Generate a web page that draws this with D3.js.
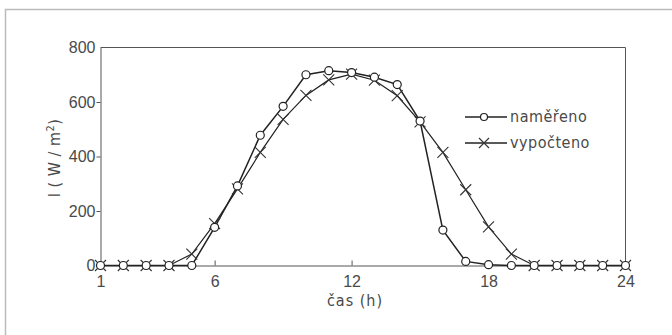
<!DOCTYPE html>
<html>
<head>
<meta charset="utf-8">
<script src="https://cdn.jsdelivr.net/npm/d3@7"></script>
<style>
  body { margin: 0; background: #fff; }
  svg { display: block; font-family: "DejaVu Sans Condensed", "DejaVu Sans", sans-serif; }
  .axis text { fill: #4a4a4a; font-size: 16px; }
  .axis path, .axis line { stroke: #555; }
</style>
</head>
<body>
<svg id="chart" width="672" height="335"></svg>
<script>
// Hourly irradiance, measured vs. calculated.
const hours = d3.range(1, 25);
const measured = [0, 0, 0, 0, 0, 140, 292, 478, 584, 700, 715, 708,
                  691, 664, 530, 130, 15, 3, 0, 0, 0, 0, 0, 0];
const calculated = [0, 0, 0, 0, 42, 154, 281, 415, 536, 624, 681, 702,
                    680, 623, 527, 415, 278, 142, 42, 0, 0, 0, 0, 0];
const xTicks = [1, 6, 12, 18, 24];
const yTicks = [0, 200, 400, 600, 800];
const seriesNames = ["naměřeno", "vypočteno"];

const svg = d3.select("#chart");
const LINE = "#222";
const TEXT = "#4a4a4a";

// Light frame round the figure.
svg.append("rect")
  .attr("x", 5.5).attr("y", 9.5)
  .attr("width", 680).attr("height", 340)
  .attr("fill", "none").attr("stroke", "#bbb").attr("stroke-width", 1.5);

const x = d3.scaleLinear().domain([1, 24]).range([100.5, 625.5]);
const y = d3.scaleLinear().domain([0, 800]).range([265.5, 47.5]);

// Top and right edges of the plot box.
svg.append("path")
  .attr("d", `M${x(1)},${y(800)}H${x(24)}V${y(0)}`)
  .attr("fill", "none").attr("stroke", "#555");

svg.append("g")
  .attr("class", "axis")
  .attr("transform", `translate(${x(1)},0)`)
  .call(d3.axisLeft(y).tickValues(yTicks).tickSizeInner(4).tickSizeOuter(0).tickPadding(1))
  .call((g) => g.selectAll(".tick line").filter((d) => d === 0 || d === 800).remove());

svg.append("g")
  .attr("class", "axis")
  .attr("transform", `translate(0,${y(0)})`)
  .call(d3.axisBottom(x).tickValues(xTicks).tickSizeInner(-5).tickSizeOuter(0).tickPadding(10))
  .call((g) => g.selectAll(".tick line").filter((d) => d === 1 || d === 24).remove());

// Axis titles.
svg.append("text")
  .attr("x", 355).attr("y", 306)
  .attr("text-anchor", "middle")
  .attr("fill", TEXT).attr("font-size", 16)
  .attr("letter-spacing", 1)
  .text("čas (h)");

const yTitle = svg.append("text")
  .attr("transform", "translate(60,158) rotate(-90)")
  .attr("text-anchor", "middle")
  .attr("fill", TEXT).attr("font-size", 16)
  .attr("letter-spacing", 0.5);
yTitle.append("tspan").text("I ( W / m");
yTitle.append("tspan").attr("dy", -6).attr("font-size", 11).text("2");
yTitle.append("tspan").attr("dy", 6).text(")");

const line = d3.line().x((d) => x(d[0])).y((d) => y(d[1]));

const calcPts = hours.map((h, i) => [h, calculated[i]]);
const measPts = hours.map((h, i) => [h, measured[i]]);

svg.append("path").datum(calcPts)
  .attr("d", line).attr("fill", "none")
  .attr("stroke", LINE).attr("stroke-width", 1.2);
svg.append("path").datum(measPts)
  .attr("d", line).attr("fill", "none")
  .attr("stroke", LINE).attr("stroke-width", 1.5);

// Cross markers for the calculated series.
function cross(g, cx, cy, s) {
  g.append("path")
    .attr("d", `M${cx - s},${cy - s}L${cx + s},${cy + s}M${cx - s},${cy + s}L${cx + s},${cy - s}`)
    .attr("stroke", "#333").attr("stroke-width", 1.1).attr("fill", "none");
}
const crosses = svg.append("g");
calcPts.forEach((d) => cross(crosses, x(d[0]), y(d[1]), 5.5));

svg.append("g").selectAll("circle")
  .data(measPts)
  .join("circle")
  .attr("cx", (d) => x(d[0]))
  .attr("cy", (d) => y(d[1]))
  .attr("r", 4)
  .attr("fill", "#fff")
  .attr("stroke", LINE).attr("stroke-width", 1.2);

// Legend.
const legend = svg.append("g").attr("transform", "translate(465,117)");
seriesNames.forEach((name, i) => {
  const row = legend.append("g").attr("transform", `translate(0,${i * 26})`);
  row.append("line").attr("x1", 0).attr("x2", 42)
    .attr("stroke", LINE).attr("stroke-width", 1.3);
  if (i === 0) {
    row.append("circle").attr("cx", 19).attr("r", 3.5)
      .attr("fill", "#fff").attr("stroke", LINE).attr("stroke-width", 1.2);
  } else {
    cross(row, 19, 0, 5);
  }
  row.append("text").attr("x", 45).attr("y", 5)
    .attr("fill", TEXT).attr("font-size", 16)
    .attr("letter-spacing", 0.5)
    .text(name);
});
</script>
</body>
</html>
